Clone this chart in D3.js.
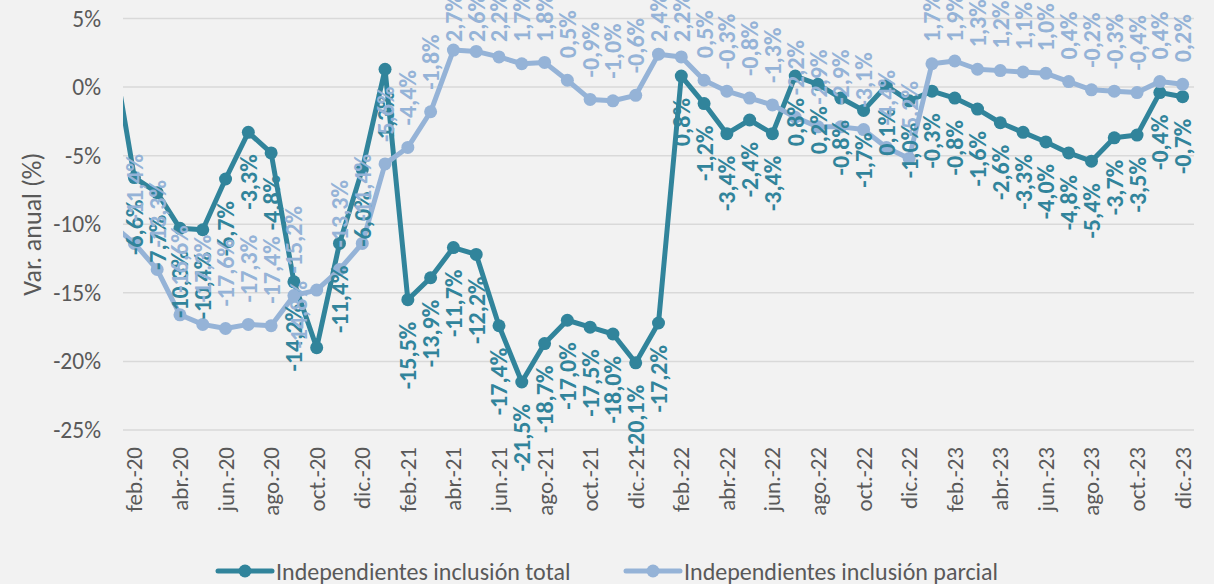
<!DOCTYPE html>
<html>
<head>
<meta charset="utf-8">
<script src="https://cdn.jsdelivr.net/npm/d3@7"></script>
<style>
  html, body { margin: 0; padding: 0; background: #f2f2f2; }
  svg { display: block; font-family: Carlito, Lato, "Open Sans", sans-serif; }
</style>
</head>
<body>
<div id="chart"></div>
<script>
// months shown on the category axis (ene.-20 sits just outside the plot, only its line segment shows)
var months = [
  "ene.-20","feb.-20","mar.-20","abr.-20","may.-20","jun.-20","jul.-20","ago.-20","sep.-20","oct.-20","nov.-20","dic.-20",
  "ene.-21","feb.-21","mar.-21","abr.-21","may.-21","jun.-21","jul.-21","ago.-21","sep.-21","oct.-21","nov.-21","dic.-21",
  "ene.-22","feb.-22","mar.-22","abr.-22","may.-22","jun.-22","jul.-22","ago.-22","sep.-22","oct.-22","nov.-22","dic.-22",
  "ene.-23","feb.-23","mar.-23","abr.-23","may.-23","jun.-23","jul.-23","ago.-23","sep.-23","oct.-23","nov.-23","dic.-23"
];

// Independientes inclusion total (%)
var total = [
  3.2, -6.6, -7.7, -10.3, -10.4, -6.7, -3.3, -4.8, -14.2, -19.0, -11.4, -6.0,
  1.3, -15.5, -13.9, -11.7, -12.2, -17.4, -21.5, -18.7, -17.0, -17.5, -18.0, -20.1,
  -17.2, 0.8, -1.2, -3.4, -2.4, -3.4, 0.8, 0.2, -0.8, -1.7, 0.1, -1.0,
  -0.3, -0.8, -1.6, -2.6, -3.3, -4.0, -4.8, -5.4, -3.7, -3.5, -0.4, -0.7
];

// Independientes inclusion parcial (%)
var parcial = [
  -10.0, -11.4, -13.3, -16.6, -17.3, -17.6, -17.3, -17.4, -15.2, -14.8, -13.3, -11.4,
  -5.6, -4.4, -1.8, 2.7, 2.6, 2.2, 1.7, 1.8, 0.5, -0.9, -1.0, -0.6,
  2.4, 2.2, 0.5, -0.3, -0.8, -1.3, -2.2, -2.9, -2.9, -3.1, -4.4, -5.2,
  1.7, 1.9, 1.3, 1.2, 1.1, 1.0, 0.4, -0.2, -0.3, -0.4, 0.4, 0.2
];

var yTicks = [5, 0, -5, -10, -15, -20, -25];
var seriesNames = ["Independientes inclusión total", "Independientes inclusión parcial"];

// labels that were deleted or dragged by hand in the original (index in months)
var totalHiddenLabels = [0, 9];
var parcialMovedLabels = [9];

var width = 1214, height = 584;
var plotLeft = 123, plotRight = 1194, plotTop = 18.5, plotBottom = 430;
var chartTop = -6; // labels are kept inside the (slightly cropped) chart area

var darkColor = "#31849b";
var lightColor = "#95b3d7";
var textColor = "#595959";

var svg = d3.select("#chart").append("svg")
  .attr("width", width)
  .attr("height", height);

svg.append("rect").attr("width", width).attr("height", height).attr("fill", "#f2f2f2");

// category axis: feb.-20 .. dic.-23 are the visible bands
var visible = months.slice(1);
var x = d3.scaleBand()
  .domain(visible)
  .range([plotLeft, plotRight]);
var step = x.step();
function xPos(i) {
  // i is the index in months; ene.-20 falls one step left of the first band
  return plotLeft + (i - 1) * step + step / 2;
}

var y = d3.scaleLinear()
  .domain([-25, 5])
  .range([plotBottom, plotTop]);

// gridlines
svg.append("g")
  .selectAll("line")
  .data(yTicks)
  .join("line")
  .attr("x1", plotLeft)
  .attr("x2", plotRight)
  .attr("y1", d => y(d))
  .attr("y2", d => y(d))
  .attr("stroke", "#d9d9d9")
  .attr("stroke-width", 1.5);

// y tick labels
svg.append("g")
  .selectAll("text")
  .data(yTicks)
  .join("text")
  .attr("x", 101)
  .attr("y", d => y(d))
  .attr("text-anchor", "end")
  .attr("dominant-baseline", "central")
  .attr("fill", textColor)
  .style("font-size", "23.5px")
  .text(d => d + "%");

// y title
svg.append("text")
  .attr("transform", "translate(32," + ((plotTop + plotBottom) / 2) + ") rotate(-90)")
  .attr("text-anchor", "middle")
  .attr("dominant-baseline", "central")
  .attr("fill", textColor)
  .style("font-size", "26px")
  .text("Var. anual (%)");

// x tick labels, every second month starting with feb.
svg.append("g")
  .selectAll("text")
  .data(visible.filter((m, i) => i % 2 === 0))
  .join("text")
  .attr("transform", d => "translate(" + (x(d) + step / 2) + ",447) rotate(-90)")
  .attr("text-anchor", "end")
  .attr("dominant-baseline", "central")
  .attr("fill", textColor)
  .style("font-size", "23px")
  .text(d => d);

// clip the lines at the left edge of the plot
svg.append("clipPath").attr("id", "plot-clip")
  .append("rect")
  .attr("x", plotLeft).attr("y", 0)
  .attr("width", width - plotLeft).attr("height", height);

var line = d3.line()
  .x((d, i) => xPos(i))
  .y(d => y(d));

var series = [
  { values: total, color: darkColor, pos: "below", hidden: totalHiddenLabels, moved: [] },
  { values: parcial, color: lightColor, pos: "above", hidden: [0], moved: parcialMovedLabels }
];

var linesG = svg.append("g").attr("clip-path", "url(#plot-clip)");

series.forEach(s => {
  linesG.append("path")
    .attr("d", line(s.values))
    .attr("fill", "none")
    .attr("stroke", s.color)
    .attr("stroke-width", 5)
    .attr("stroke-linejoin", "round");

  linesG.append("g")
    .selectAll("circle")
    .data(s.values)
    .join("circle")
    .attr("cx", (d, i) => xPos(i))
    .attr("cy", d => y(d))
    .attr("r", 6.5)
    .attr("fill", s.color);
});

function fmt(v) {
  return v.toFixed(1).replace(".", ",") + "%";
}

// data labels, rotated; labels above are pushed down when they would leave the chart area
series.forEach(s => {
  var labels = svg.append("g")
    .selectAll("text")
    .data(s.values.map((v, i) => ({ v: v, i: i })).filter(d => s.hidden.indexOf(d.i) < 0))
    .join("text")
    .attr("text-anchor", s.pos === "below" ? "end" : "start")
    .attr("dominant-baseline", "central")
    .attr("fill", s.color)
    .style("font-size", "24px")
    .style("font-weight", "bold")
    .text(d => fmt(d.v));

  labels.attr("transform", function(d) {
    var lx = xPos(d.i), ly;
    var len = this.getComputedTextLength();
    if (s.moved.indexOf(d.i) >= 0) {
      // dragged left, under the previous point
      lx = xPos(d.i) - 0.8 * step;
      ly = y(d.v) - 9 + len;
    } else if (s.pos === "below") {
      ly = y(d.v) + 22;
    } else {
      ly = Math.max(y(d.v) - 22, chartTop + len);
    }
    return "translate(" + lx + "," + ly + ") rotate(-90)";
  });
});

// legend
var legendItems = [
  { name: seriesNames[0], color: darkColor, x0: 218 },
  { name: seriesNames[1], color: lightColor, x0: 626 }
];
var legend = svg.append("g");
legendItems.forEach(l => {
  legend.append("line")
    .attr("x1", l.x0).attr("x2", l.x0 + 54)
    .attr("y1", 571).attr("y2", 571)
    .attr("stroke", l.color)
    .attr("stroke-width", 5)
    .attr("stroke-linecap", "round");
  legend.append("circle")
    .attr("cx", l.x0 + 27).attr("cy", 571).attr("r", 6.5)
    .attr("fill", l.color);
  legend.append("text")
    .attr("x", l.x0 + 58).attr("y", 571)
    .attr("dominant-baseline", "central")
    .attr("fill", textColor)
    .style("font-size", "24px")
    .text(l.name);
});
</script>
</body>
</html>
